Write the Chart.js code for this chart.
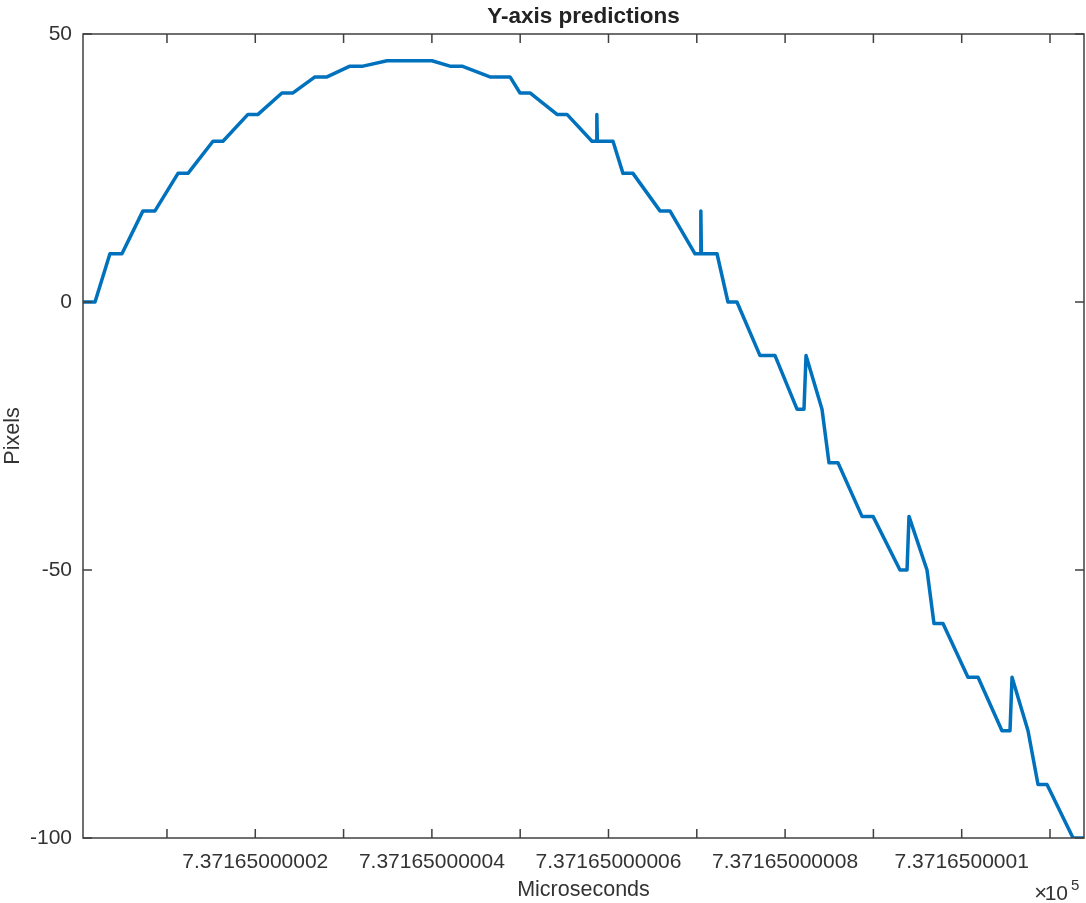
<!DOCTYPE html>
<html>
<head>
<meta charset="utf-8">
<title>Y-axis predictions</title>
<script src="https://cdn.jsdelivr.net/npm/chart.js@4.4.1/dist/chart.umd.min.js"></script>
<style>
  html, body { margin: 0; padding: 0; background: #fff; }
  #wrap { width: 1086px; height: 903px; }
</style>
</head>
<body>
<div id="wrap"><canvas id="chart" width="1086" height="903"></canvas></div>
<script>
// x is stored as an offset from 7.37165e5 µs, in steps of 1e-6 µs (one tick = 1 step)
const xOffset = [
  0.049, 0.185, 0.354, 0.490, 0.728, 0.864, 1.125, 1.238, 1.521, 1.634,
  1.917, 2.031, 2.302, 2.427, 2.676, 2.812, 3.072, 3.220, 3.492, 4.001,
  4.205, 4.341, 4.658, 4.885, 4.998, 5.111, 5.417, 5.530, 5.813, 5.862,
  5.868, 5.874, 6.051, 6.164, 6.277, 6.583, 6.696, 6.980, 7.040, 7.046,
  7.052, 7.229, 7.353, 7.455, 7.716, 7.886, 8.135, 8.214, 8.237, 8.418,
  8.497, 8.599, 8.871, 8.996, 9.301, 9.381, 9.403, 9.607, 9.686, 9.788,
  10.071, 10.185, 10.456, 10.547, 10.570, 10.751, 10.864, 10.966, 11.261, 11.385
];
const pixels = [
  0, 0, 9, 9, 17, 17, 24, 24, 30, 30,
  35, 35, 39, 39, 42, 42, 44, 44, 45, 45,
  44, 44, 42, 42, 39, 39, 35, 35, 30, 30,
  35, 30, 30, 24, 24, 17, 17, 9, 9, 17,
  9, 9, 0, 0, -10, -10, -20, -20, -10, -20,
  -30, -30, -40, -40, -50, -50, -40, -50, -60, -60,
  -70, -70, -80, -80, -70, -80, -90, -90, -100, -100
];

const xTickValues = [1, 2, 3, 4, 5, 6, 7, 8, 9, 10, 11];
const xTickLabels = ["", "7.37165000002", "", "7.37165000004", "", "7.37165000006",
  "", "7.37165000008", "", "7.3716500001", ""];
const yTickValues = [-100, -50, 0, 50];

const axisColor = "#404040";
const textColor = "#333333";
const fontFamily = "'Liberation Sans', Arial, Helvetica, sans-serif";

const points = xOffset.map((x, i) => ({ x, y: pixels[i] }));

// MATLAB style box with inward ticks, title over the axes, and the x10^5 exponent
const boxAndTicks = {
  id: "boxAndTicks",
  afterDatasetsDraw(chart) {
    const { ctx, chartArea: a, scales: { x, y } } = chart;
    const len = 9;
    ctx.save();
    ctx.strokeStyle = axisColor;
    ctx.lineWidth = 1.5;
    ctx.strokeRect(a.left, a.top, a.right - a.left, a.bottom - a.top);
    ctx.beginPath();
    x.ticks.forEach(t => {
      const px = x.getPixelForValue(t.value);
      ctx.moveTo(px, a.bottom); ctx.lineTo(px, a.bottom - len);
      ctx.moveTo(px, a.top); ctx.lineTo(px, a.top + len);
    });
    y.ticks.forEach(t => {
      const py = y.getPixelForValue(t.value);
      ctx.moveTo(a.left, py); ctx.lineTo(a.left + len, py);
      ctx.moveTo(a.right, py); ctx.lineTo(a.right - len, py);
    });
    ctx.stroke();

    ctx.fillStyle = "#222";
    ctx.textAlign = "center";
    ctx.textBaseline = "alphabetic";
    ctx.font = "bold 22.5px " + fontFamily;
    ctx.fillText("Y-axis predictions", (a.left + a.right) / 2, 23);

    ctx.fillStyle = textColor;
    ctx.textAlign = "right";
    ctx.font = "21px " + fontFamily;
    ctx.fillText("10", 1068, 900);
    ctx.font = "22px " + fontFamily;
    ctx.fillText("\u00d7", 1047, 900);
    ctx.textAlign = "left";
    ctx.font = "15px " + fontFamily;
    ctx.fillText("5", 1071, 890);
    ctx.restore();
  }
};

new Chart(document.getElementById("chart"), {
  type: "line",
  data: {
    datasets: [{
      data: points,
      borderColor: "#0072BD",
      borderWidth: 3.5,
      borderJoinStyle: "round",
      borderCapStyle: "round",
      pointRadius: 0,
      tension: 0,
      fill: false
    }]
  },
  options: {
    responsive: false,
    animation: false,
    layout: { padding: { top: 34, right: 2, bottom: 0, left: 0 } },
    plugins: {
      legend: { display: false },
      tooltip: { enabled: false },
      title: { display: false }
    },
    scales: {
      x: {
        type: "linear",
        min: 0.049,
        max: 11.385,
        afterFit: s => { s.height = 65; },
        afterBuildTicks: s => { s.ticks = xTickValues.map(v => ({ value: v })); },
        grid: { display: false, drawTicks: false },
        border: { display: false },
        ticks: {
          autoSkip: false,
          maxRotation: 0,
          padding: 12,
          color: textColor,
          font: { family: fontFamily, size: 21 },
          callback: v => xTickLabels[xTickValues.indexOf(v)]
        },
        title: {
          display: true,
          text: "Microseconds",
          color: textColor,
          font: { family: fontFamily, size: 21.5 },
          padding: { top: 0, bottom: 0 }
        }
      },
      y: {
        min: -100,
        max: 50,
        afterFit: s => { s.width = 83; },
        afterBuildTicks: s => { s.ticks = yTickValues.map(v => ({ value: v })); },
        grid: { display: false, drawTicks: false },
        border: { display: false },
        ticks: {
          padding: 11,
          color: textColor,
          font: { family: fontFamily, size: 21 }
        },
        title: {
          display: true,
          text: "Pixels",
          color: textColor,
          font: { family: fontFamily, size: 21.5 },
          padding: { top: 0, bottom: 0 }
        }
      }
    }
  },
  plugins: [boxAndTicks]
});
</script>
</body>
</html>
